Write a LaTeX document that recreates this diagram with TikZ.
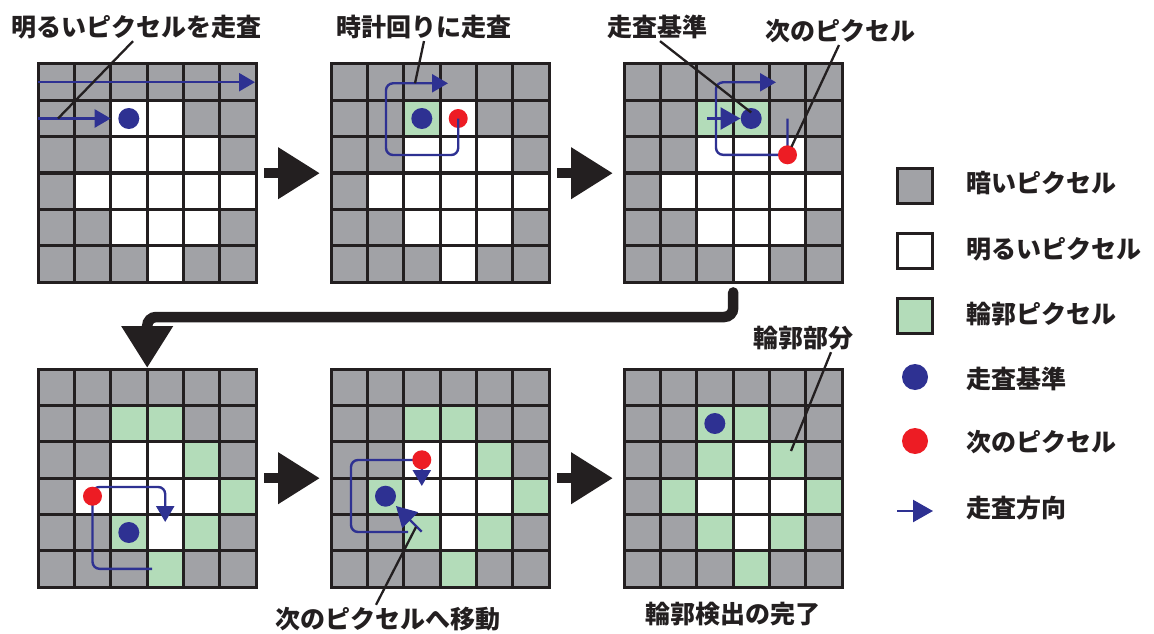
\documentclass[tikz,border=0pt]{standalone}
\usepackage{fontspec}
\newfontfamily\jp{Noto Sans CJK JP}
\usetikzlibrary{arrows.meta,calc}
\definecolor{pgray}{HTML}{A1A2A6}
\definecolor{pgreen}{HTML}{B3DCB9}
\definecolor{sblue}{HTML}{2E3192}
\definecolor{sred}{HTML}{ED1C24}
\definecolor{ink}{HTML}{231F20}
\def\cs{36.333}
\tikzset{
  lbl/.style={font=\jp\bfseries\fontsize{25}{29}\selectfont, text=ink, inner sep=0pt},
  gridline/.style={draw=ink, line width=3pt},
  bdot/.style={circle, fill=sblue, minimum size=21pt, inner sep=0pt},
  rdot/.style={circle, fill=sred, minimum size=19pt, inner sep=0pt},
  scan/.style={draw=sblue, line width=2.4pt, rounded corners=7pt, -{Triangle[length=16pt,width=18pt]}},
  bigscan/.style={draw=sblue, line width=2.4pt, -{Triangle[length=20pt,width=22pt]}},
  leader/.style={draw=ink, line width=2.3pt},
  bigarrow/.style={draw=ink, line width=10.5pt, -{Triangle[length=42pt,width=49pt]}},
  legbox/.style={draw=ink, line width=3pt, minimum size=35pt, inner sep=0pt},
}
\newcommand\pixgrid[4]{%
  \begin{scope}[shift={(#2,#3)}]
    \fill[pgray] (0,0) rectangle (218,218);
    \foreach \c/\r in {2/1,3/1,2/2,3/2,4/2,1/3,2/3,3/3,4/3,5/3,2/4,3/4,4/4,3/5}
      \fill[white] ({\c*\cs},{\r*\cs}) rectangle ++(\cs,\cs);
    \if\relax\detokenize{#4}\relax\else
    \foreach \c/\r in {#4}
      \fill[pgreen] ({\c*\cs},{\r*\cs}) rectangle ++(\cs,\cs);
    \fi
    \foreach \i in {1,...,5} {
      \draw[gridline] ({\i*\cs},0) -- ({\i*\cs},218);
      \draw[gridline] (0,{\i*\cs}) -- (218,{\i*\cs});
    }
    \draw[gridline] (0,0) rectangle (218,218);
    \node[minimum size=218pt, inner sep=0pt, anchor=north west] (#1) at (0,0) {};
  \end{scope}
}
\begin{document}
\begin{tikzpicture}[x=1pt,y=-1pt]
\useasboundingbox (0,0) rectangle (1154,634);

% grids
\pixgrid{g1}{38}{64}{}
\pixgrid{g2}{331}{64}{2/1}
\pixgrid{g3}{624}{64}{2/1,3/1}
\pixgrid{g4}{38}{369}{2/1,3/1,4/2,5/3,2/4,4/4,3/5}
\pixgrid{g5}{331}{369}{2/1,3/1,4/2,5/3,2/4,4/4,3/5,1/3}
\pixgrid{g6}{624}{369}{2/1,3/1,4/2,5/3,2/4,4/4,3/5,1/3,2/2}

% big flow arrows
\draw[bigarrow] ($(g1.east)+(8,0)$) -- ($(g2.west)+(-11,0)$);
\draw[bigarrow] ($(g2.east)+(8,0)$) -- ($(g3.west)+(-11,0)$);
\draw[bigarrow] ($(g4.east)+(8,0)$) -- ($(g5.west)+(-11,0)$);
\draw[bigarrow] ($(g5.east)+(8,0)$) -- ($(g6.west)+(-11,0)$);
\draw[bigarrow, rounded corners=9pt, line cap=round]
  ($(g3.south)+(0,10)$) |- ($(g4.north)+(0,-52)$) -- ($(g4.north)+(0,-1)$);

% grid 1
\coordinate (s1a) at (38,82.2);
\coordinate (s1b) at (255,82.2);
\coordinate (s1c) at (38,118.5);
\coordinate (s1d) at (110.7,118.5);
\draw[scan] (s1a) -- (s1b);
\draw[scan] (s1c) -- (s1d);
\node[bdot] (b1) at (128.8,118.5) {};
\node[lbl] (l1) at (137,27) {明るいピクセルを走査};
\coordinate (e1) at (58,118.5);
\draw[leader] ($(l1.south)+(-4,2)$) -- (e1);

% grid 2
\node[bdot] (b2) at (421.8,118.5) {};
\node[rdot] (r2) at (458.2,118.5) {};
\draw[scan] (r2.center) -- (458.2,155) -- (386,155) -- (386,83.3) -- (448,83.3);
\node[lbl] (l2) at (424,27) {時計回りに走査};
\coordinate (e2) at (415,83.3);
\draw[leader] ($(l2.south)+(0,2)$) -- (e2);

% grid 3
\coordinate (p3) at (787.5,118.5);
\draw[scan] (p3) -- (787.5,154.8) -- (716,154.8) -- (716,82.3) -- (776,82.3);
\node[bdot] (b3) at (751.2,118.5) {};
\node[rdot] (r3) at (787.5,154.8) {};
\coordinate (t3) at (707,118.5);
\draw[bigscan] (t3) -- (b3.west);
\node[lbl] (l3) at (657,27) {走査基準};
\node[lbl] (l4) at (840,31) {次のピクセル};
\draw[leader] ($(l3.south)+(3,2)$) -- ($(b3.center)+(0,-6)$);
\draw[leader] ($(l4.south)+(-1,2)$) -- ($(r3.center)+(4,-8)$);

% grid 4
\draw[scan] (152,568.8) -- (92.5,568.8) -- (92.5,487) -- (165.2,487) -- (165.2,522);
\node[rdot] (r4) at (92.5,496.2) {};
\node[bdot] (b4) at (128.8,532.5) {};

% grid 5
\draw[scan] (408,532) -- (351,532) -- (351,460) -- (421.8,460) -- (421.8,486);
\node[rdot] (r5) at (421.8,459.8) {};
\node[bdot] (b5) at (385.5,496.2) {};
\coordinate (t5) at (421.7,531.7);
\draw[bigscan] (t5) -- (396,506);
\node[lbl] (l5) at (388,619) {次のピクセルへ移動};
\draw[leader] ($(l5.north)+(-12,-2)$) -- (416,527);

% grid 6
\node[bdot] (b6) at (714.8,423.5) {};
\node[lbl] (l6) at (803,338) {輪郭部分};
\coordinate (e6) at (791,451);
\draw[leader] ($(l6.south)+(28,2)$) -- (e6);
\node[lbl] (l7) at (733,614) {輪郭検出の完了};

% legend
\node[legbox, fill=pgray] (k1) at (915,186) {};
\node[legbox, fill=white] (k2) at (915,251) {};
\node[legbox, fill=pgreen] (k3) at (915,316) {};
\node[circle, fill=sblue, minimum size=26pt, inner sep=0pt] (k4) at (915,377) {};
\node[circle, fill=sred, minimum size=26pt, inner sep=0pt] (k5) at (915,441) {};
\coordinate (k6a) at (897,511);
\coordinate (k6b) at (933,511);
\draw[bigscan] (k6a) -- (k6b);
\node[lbl, anchor=west] (t1) at (966,183) {暗いピクセル};
\node[lbl, anchor=west] (t2) at (966,249) {明るいピクセル};
\node[lbl, anchor=west] (t3) at (966,314) {輪郭ピクセル};
\node[lbl, anchor=west] (t4) at (966,379) {走査基準};
\node[lbl, anchor=west] (t5) at (966,442) {次のピクセル};
\node[lbl, anchor=west] (t6) at (966,508) {走査方向};
\end{tikzpicture}
\end{document}
